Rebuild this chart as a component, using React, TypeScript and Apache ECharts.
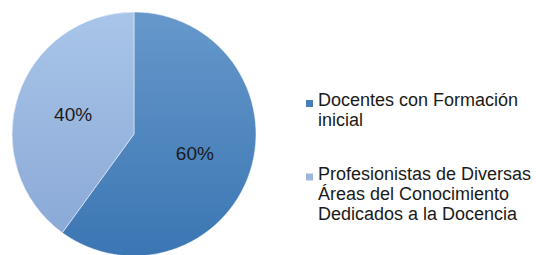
import React, { useEffect, useRef } from "react";
import * as echarts from "echarts";

const categories = [
  "Docentes con Formación inicial",
  "Profesionistas de Diversas Áreas del Conocimiento Dedicados a la Docencia",
];
const legendLines = [
  ["Docentes con Formación", "inicial"],
  ["Profesionistas de Diversas", "Áreas del Conocimiento", "Dedicados a la Docencia"],
];
const values = [60, 40];
const labels = ["60%", "40%"];
const topColors = ["#6698cb", "#a9c5e9"];
const bottomColors = ["#3b76b3", "#87a6d4"];
const markerColors = ["#4a7ebb", "#98b6de"];

export default function App() {
  const ref = useRef<HTMLDivElement>(null);
  useEffect(() => {
    const chart = echarts.init(ref.current!, null, { renderer: "svg" });
    const graphic: any[] = [];
    const legendTop = [90, 163.5];
    legendLines.forEach((lines, i) => {
      graphic.push({
        type: "rect",
        shape: { x: 306, y: legendTop[i] + 10, width: 7, height: 7 },
        style: { fill: markerColors[i] },
      });
      graphic.push({
        type: "text",
        x: 318,
        y: legendTop[i],
        style: {
          text: lines.join("\n"),
          font: "18px 'Liberation Sans', Arial, sans-serif",
          lineHeight: 20,
          fill: "#1a1a1a",
        },
      });
    });
    chart.setOption({
      animation: false,
      graphic,
      series: [
        {
          type: "pie",
          center: [134, 134],
          radius: [0, 122],
          startAngle: 90,
          clockwise: true,
          label: {
            show: true,
            position: "inside",
            formatter: (p: any) => labels[p.dataIndex],
            fontFamily: "'Liberation Sans', Arial, sans-serif",
            fontSize: 19,
            color: "#1a1a1a",
          },
          labelLine: { show: false },
          emphasis: { disabled: true },
          itemStyle: { borderColor: "rgba(255,255,255,0.6)", borderWidth: 0.8 },
          data: values.map((v, i) => ({
            name: categories[i],
            value: v,
            itemStyle: {
              color: new echarts.graphic.LinearGradient(
                0, 12, 0, 256,
                [
                  { offset: 0, color: topColors[i] },
                  { offset: 1, color: bottomColors[i] },
                ],
                true
              ),
            },
          })),
        },
      ],
    });
    return () => chart.dispose();
  }, []);
  return (
    <div
      ref={ref}
      style={{ position: "absolute", left: 0, top: 0, width: 536, height: 255 }}
    />
  );
}
